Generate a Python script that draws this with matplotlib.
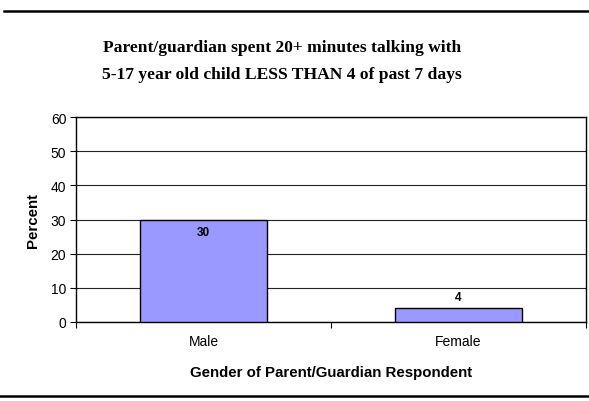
import matplotlib
matplotlib.use("Agg")
import matplotlib.pyplot as plt
from matplotlib.lines import Line2D

categories = ["Male", "Female"]
percent = [30, 4]
yticks = [0, 10, 20, 30, 40, 50, 60]

title = ("Parent/guardian spent 20+ minutes talking with\n"
         "5-17 year old child LESS THAN 4 of past 7 days")
xlabel = "Gender of Parent/Guardian Respondent"
ylabel = "Percent"

sans = ["Liberation Sans", "DejaVu Sans"]
serif = ["Liberation Serif", "DejaVu Serif"]

fig = plt.figure(figsize=(5.89, 4.02), dpi=100)
ax = fig.add_axes([76 / 589, 1 - 323 / 402, 510 / 589, 205 / 402])

x = list(range(len(categories)))
ax.bar(x, percent, width=0.5, color="#9999FF", edgecolor="black",
       linewidth=1.0, zorder=3)

ax.set_xlim(-0.5, len(categories) - 0.5)
ax.set_ylim(0, 60)
ax.set_yticks(yticks)
ax.set_yticklabels([str(v) for v in yticks], family=sans, fontsize=10)
ax.yaxis.grid(True, color="#222222", linewidth=0.8, zorder=0)

# category labels centred on bars, tick marks on category boundaries
ax.set_xticks([-0.5, 0.5, 1.5])
ax.set_xticklabels([])
ax.set_xticks(x, minor=True)
ax.set_xticklabels(categories, minor=True, family=sans, fontsize=10)
ax.tick_params(axis="x", which="minor", length=0, pad=9)
ax.tick_params(axis="x", which="major", length=4, width=0.8, direction="out")
ax.tick_params(axis="y", length=4, width=0.8, direction="out", pad=3)

for s in ax.spines.values():
    s.set_linewidth(1.0)
    s.set_color("black")

ax.set_xlabel(xlabel, family=sans, fontsize=10.8, fontweight="bold", labelpad=12)
ax.set_ylabel(ylabel, family=sans, fontsize=10.8, fontweight="bold", labelpad=8)

# value labels: inside end for the tall bar, outside end for the short one
for xi, v in zip(x, percent):
    offset = -13 if v >= 10 else 11
    ax.annotate(str(v), (xi, v), xytext=(0, offset), textcoords="offset pixels",
                ha="center", va="center", family=sans, fontsize=8.5,
                fontweight="bold", zorder=4)

fig.text(282 / 589, 1 - 61.5 / 402, title, ha="center", va="center",
         multialignment="center", family=serif, fontsize=12.6,
         fontweight="bold", linespacing=1.85)

# horizontal rules above and below the chart
fig.add_artist(Line2D([4 / 589, 1.0], [1 - 12 / 402] * 2, color="black",
                      linewidth=1.8, transform=fig.transFigure))
fig.add_artist(Line2D([0.0, 1.0], [1 - 397 / 402] * 2, color="black",
                      linewidth=1.8, transform=fig.transFigure))

fig.savefig("out.png", dpi=100)
